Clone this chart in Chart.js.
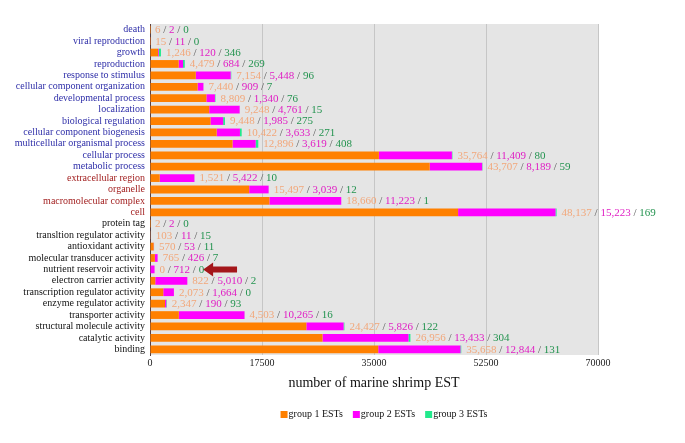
<!DOCTYPE html>
<html>
<head>
<meta charset="utf-8">
<script src="https://cdn.jsdelivr.net/npm/chart.js@4"></script>
<style>
  html, body { margin: 0; padding: 0; background: #fff; }
  #wrap { width: 685px; height: 443px; }
</style>
</head>
<body>
<div id="wrap"><canvas id="goChart"></canvas></div>
<script>
// GO categories, top to bottom
const categories = [
  'death', 'viral reproduction', 'growth', 'reproduction', 'response to stimulus',
  'cellular component organization', 'developmental process', 'localization',
  'biological regulation', 'cellular component biogenesis',
  'multicellular organismal process', 'cellular process', 'metabolic process',
  'extracellular region', 'organelle', 'macromolecular complex', 'cell',
  'protein tag', 'transltion regulator activity', 'antioxidant activity',
  'molecular transducer activity', 'nutrient reservoir activity',
  'electron carrier activity', 'transcription regulator activity',
  'enzyme regulator activity', 'transporter activity',
  'structural molecule activity', 'catalytic activity', 'binding'
];
// which ontology each category belongs to (bp / cc / mf)
const ontology = [
  'bp','bp','bp','bp','bp','bp','bp','bp','bp','bp','bp','bp','bp',
  'cc','cc','cc','cc',
  'mf','mf','mf','mf','mf','mf','mf','mf','mf','mf','mf','mf'
];

const group1 = [6, 15, 1246, 4479, 7154, 7440, 8809, 9248, 9448, 10422, 12896, 35764, 43707,
  1521, 15497, 18660, 48137,
  2, 103, 570, 765, 0, 822, 2073, 2347, 4503, 24427, 26956, 35658];
const group2 = [2, 11, 120, 684, 5448, 909, 1340, 4761, 1985, 3633, 3619, 11409, 8189,
  5422, 3039, 11223, 15223,
  2, 11, 53, 426, 712, 5010, 1664, 190, 10265, 5826, 13433, 12844];
const group3 = [0, 0, 346, 269, 96, 7, 76, 15, 275, 271, 408, 80, 59,
  10, 12, 1, 169,
  0, 15, 11, 7, 0, 2, 0, 93, 16, 122, 304, 131];

const xTicks = [0, 17500, 35000, 52500, 70000];

// the arrow marking nutrient reservoir activity (value range along x)
const arrowRow = 'nutrient reservoir activity';
const arrowFrom = 13600;
const arrowTo = 8300;

const labelColors = { bp: '#2e2ea8', cc: '#a32222', mf: '#111111' };
const serif = '"Liberation Serif", "DejaVu Serif", serif';

const plotBackground = {
  id: 'plotBackground',
  beforeDraw(chart) {
    const { ctx, chartArea: a } = chart;
    ctx.save();
    ctx.fillStyle = '#e5e5e5';
    ctx.fillRect(a.left, a.top, a.right - a.left, a.bottom - a.top);
    ctx.restore();
  }
};

const valueLabels = {
  id: 'valueLabels',
  afterDatasetsDraw(chart) {
    const { ctx, scales } = chart;
    const x = scales.x, y = scales.y;
    ctx.save();
    ctx.font = '11px ' + serif;
    ctx.textBaseline = 'middle';
    ctx.textAlign = 'left';
    categories.forEach((c, i) => {
      const total = group1[i] + group2[i] + group3[i];
      let px = x.getPixelForValue(total) + 5;
      const py = y.getPixelForValue(i) + 0.5;
      const parts = [
        [group1[i].toLocaleString('en-US'), '#f2a77a'],
        [' / ', '#555555'],
        [group2[i].toLocaleString('en-US'), '#e01fc4'],
        [' / ', '#555555'],
        [group3[i].toLocaleString('en-US'), '#23934f']
      ];
      parts.forEach(([t, col]) => {
        ctx.fillStyle = col;
        ctx.fillText(t, px, py);
        px += ctx.measureText(t).width;
      });
    });

    // arrow
    const ay = y.getPixelForValue(categories.indexOf(arrowRow));
    const x0 = x.getPixelForValue(arrowFrom);
    const x1 = x.getPixelForValue(arrowTo);
    const head = 10;
    ctx.fillStyle = '#a4161a';
    ctx.beginPath();
    ctx.moveTo(x0, ay - 3);
    ctx.lineTo(x1 + head, ay - 3);
    ctx.lineTo(x1 + head, ay - 7);
    ctx.lineTo(x1, ay);
    ctx.lineTo(x1 + head, ay + 7);
    ctx.lineTo(x1 + head, ay + 3);
    ctx.lineTo(x0, ay + 3);
    ctx.closePath();
    ctx.fill();
    ctx.restore();
  }
};

// compact legend: small square right next to its text
const compactLegend = {
  id: 'compactLegend',
  afterDraw(chart) {
    const { ctx, chartArea: a } = chart;
    const sets = chart.data.datasets;
    ctx.save();
    ctx.font = '10px ' + serif;
    ctx.textBaseline = 'middle';
    const box = 7, gap = 1, itemGap = 10;
    const widths = sets.map(d => box + gap + ctx.measureText(d.label).width);
    const total = widths.reduce((s, w) => s + w, 0) + itemGap * (sets.length - 1);
    let px = (a.left + a.right) / 2 + 10 - total / 2;
    const py = a.bottom + 59;
    sets.forEach((d, i) => {
      ctx.fillStyle = d.backgroundColor;
      ctx.fillRect(px, py - 3, box, box);
      ctx.fillStyle = '#111';
      ctx.fillText(d.label, px + box + gap, py);
      px += widths[i] + itemGap;
    });
    ctx.restore();
  }
};

new Chart(document.getElementById('goChart'), {
  type: 'bar',
  data: {
    labels: categories,
    datasets: [
      { label: 'group 1 ESTs', data: group1, backgroundColor: '#ff8000' },
      { label: 'group 2 ESTs', data: group2, backgroundColor: '#ff00ff' },
      { label: 'group 3 ESTs', data: group3, backgroundColor: '#22e98c' }
    ]
  },
  options: {
    indexAxis: 'y',
    animation: false,
    responsive: true,
    maintainAspectRatio: false,
    layout: { padding: { top: 24, right: 87, bottom: 43, left: 0 } },
    datasets: {
      bar: { barPercentage: 1, categoryPercentage: 0.68, borderWidth: 0 }
    },
    scales: {
      x: {
        stacked: true,
        min: 0,
        max: 70000,
        afterBuildTicks: (scale) => { scale.ticks = xTicks.map(v => ({ value: v })); },
        afterFit: (scale) => { scale.height = 45; },
        ticks: {
          color: '#222',
          font: { family: serif, size: 10 },
          padding: 2,
          maxRotation: 0,
          callback: (v) => String(v)
        },
        grid: { color: '#c6c6c6', drawTicks: false },
        border: { display: false },
        title: {
          display: true,
          text: 'number of marine shrimp EST',
          color: '#111',
          font: { family: serif, size: 14 },
          padding: { top: 4, bottom: 8 }
        }
      },
      y: {
        stacked: true,
        afterFit: (scale) => { scale.width = 150; },
        ticks: {
          autoSkip: false,
          padding: 5,
          font: { family: serif, size: 10 },
          color: (ctx) => labelColors[ontology[ctx.index]]
        },
        grid: { display: false, drawTicks: false },
        border: { display: true, color: '#5a4040', width: 1 }
      }
    },
    plugins: {
      legend: { display: false },
      tooltip: { enabled: false }
    }
  },
  plugins: [plotBackground, valueLabels, compactLegend]
});
</script>
</body>
</html>
